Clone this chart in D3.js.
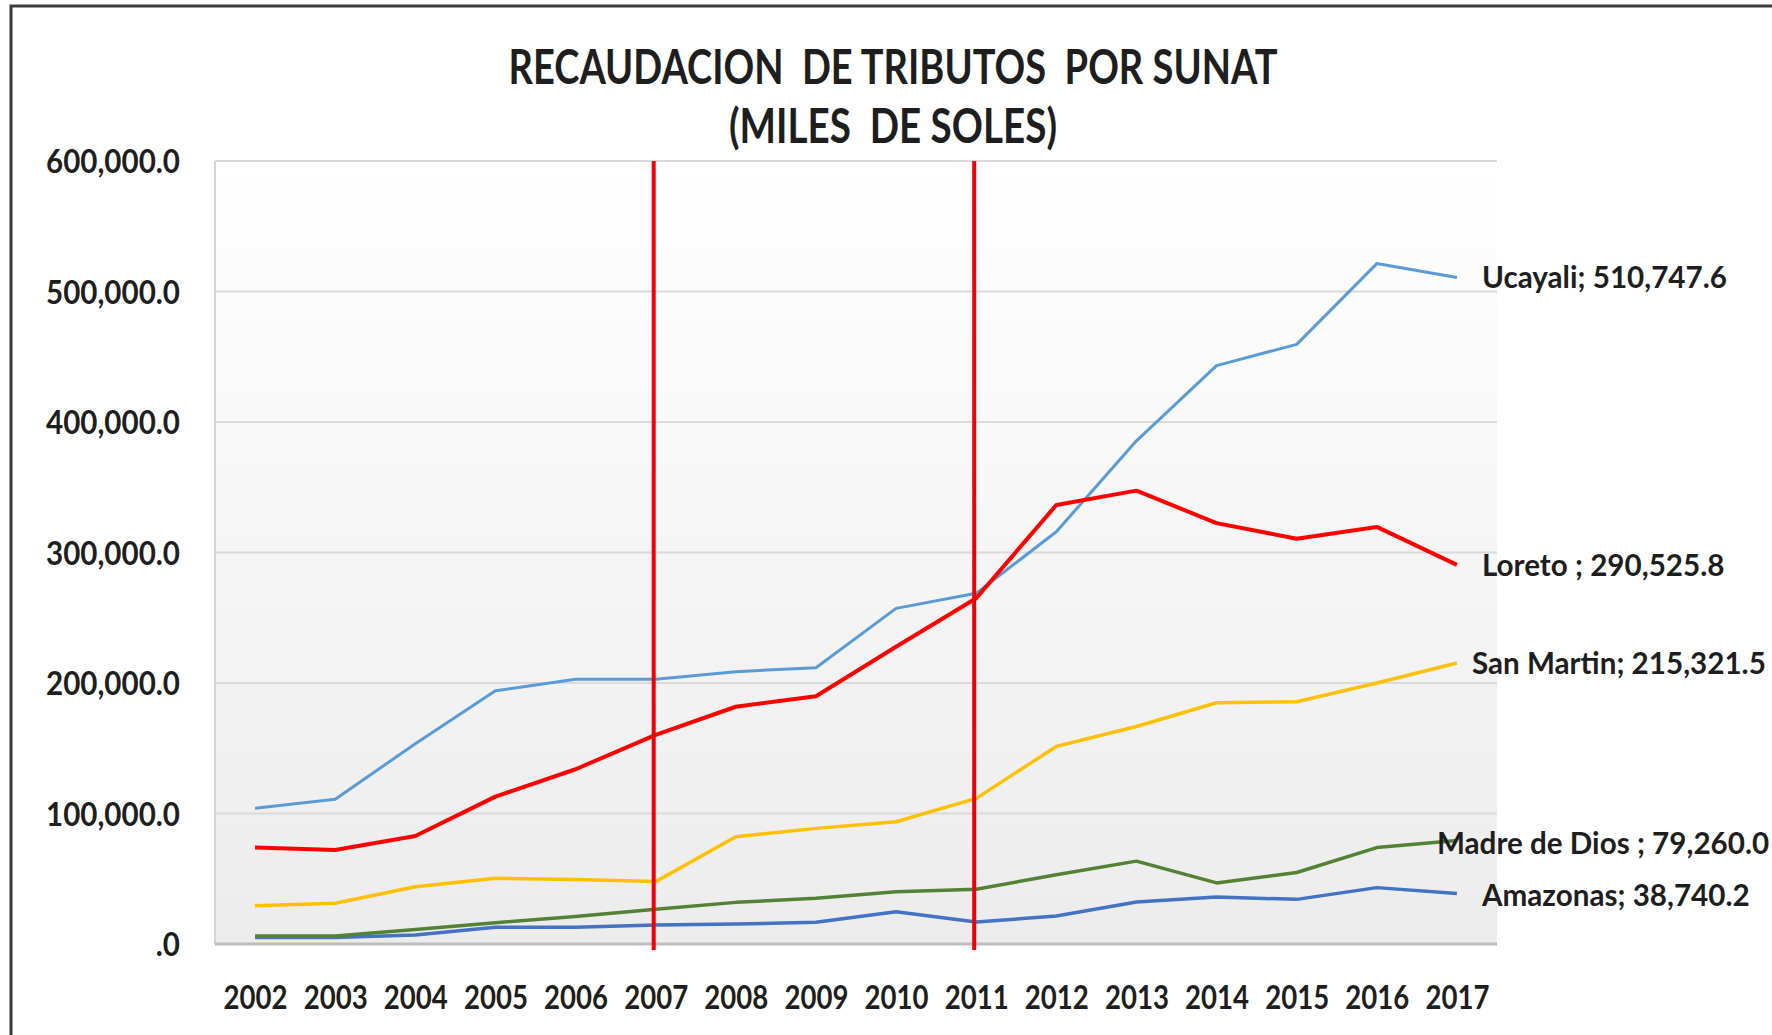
<!DOCTYPE html>
<html>
<head>
<meta charset="utf-8">
<script src="https://cdn.jsdelivr.net/npm/d3@7"></script>
<style>
  html, body { margin: 0; padding: 0; background: #ffffff; }
  svg text { font-family: Lato, "Open Sans", sans-serif; font-weight: bold; fill: #1e1e1e; }
</style>
</head>
<body>
<div id="chart"></div>
<script>
const years = ['2002','2003','2004','2005','2006','2007','2008','2009','2010','2011','2012','2013','2014','2015','2016','2017'];

const ucayali     = [104000, 110900, 153500, 194000, 202800, 202800, 208700, 211700, 257200, 268700, 315900, 385600, 443200, 459500, 521400, 510747.6];
const loreto      = [74000, 72000, 82800, 112900, 133900, 160200, 181800, 189800, 227800, 264900, 336400, 347400, 322500, 310600, 319600, 290525.8];
const sanMartin   = [29400, 31200, 43900, 50300, 49500, 47800, 82200, 88600, 93700, 111600, 151400, 166700, 184900, 185600, 200000, 215321.5];
const madreDeDios = [6100, 6100, 11200, 16300, 21000, 26600, 31900, 35000, 40000, 42000, 53000, 63500, 46800, 54800, 73900, 79260.0];
const amazonas    = [4900, 4900, 6900, 12800, 12800, 14600, 15300, 16600, 24700, 16800, 21400, 32200, 36000, 34200, 43200, 38740.2];

const seriesNames = ['Ucayali', 'Loreto ', 'San Martin', 'Madre de Dios ', 'Amazonas'];
const yTicks = [0, 100000, 200000, 300000, 400000, 500000, 600000];
const markedYears = ['2007', '2011'];
const titleLines = ['RECAUDACION  DE TRIBUTOS  POR SUNAT', '(MILES  DE SOLES)'];

// estilos por serie
const seriesColors = ['#5b9bd5', '#ff0000', '#ffc000', '#548235', '#4472c4'];
const seriesWidths = [3, 4, 3.5, 3.5, 3.5];
// desplazamiento de la etiqueta final respecto al ultimo punto
const labelDx = [25, 25, 15, -20, 25];
const labelDy = [0, 0, 0, 3, 2];

const W = 1772, H = 1035;
const plot = {left: 215, right: 1497, top: 161, bottom: 944};

// la fuente original (Calibri) es mas estrecha: se comprime cada texto
function squeeze(sel, factor) {
    sel.each(function() {
        const w = this.getComputedTextLength();
        d3.select(this)
            .attr('textLength', w * factor)
            .attr('lengthAdjust', 'spacingAndGlyphs');
    });
}
// factor a partir de un texto de referencia y su ancho en la imagen
function factorFor(sel, target) {
    return target / sel.node().getComputedTextLength();
}

const svg = d3.select('#chart').append('svg')
    .attr('width', W)
    .attr('height', H);

// marco exterior
svg.append('rect')
    .attr('x', 11).attr('y', 6)
    .attr('width', W + 20).attr('height', H + 20)
    .attr('fill', '#ffffff')
    .attr('stroke', '#3a3a3a')
    .attr('stroke-width', 3);

const defs = svg.append('defs');
const grad = defs.append('linearGradient')
    .attr('id', 'plotbg')
    .attr('x1', 0).attr('y1', 0).attr('x2', 0).attr('y2', 1);
grad.append('stop').attr('offset', '0%').attr('stop-color', '#ffffff');
grad.append('stop').attr('offset', '100%').attr('stop-color', '#ececec');

const x = d3.scalePoint()
    .domain(years)
    .range([plot.left, plot.right])
    .padding(0.5);

const y = d3.scaleLinear()
    .domain([0, 600000])
    .range([plot.bottom, plot.top]);

// fondo del area de trazado
svg.append('rect')
    .attr('x', plot.left).attr('y', plot.top)
    .attr('width', plot.right - plot.left)
    .attr('height', plot.bottom - plot.top)
    .attr('fill', 'url(#plotbg)');

// lineas de cuadricula
svg.append('g')
    .selectAll('line')
    .data(yTicks.filter(d => d > 0))
    .enter().append('line')
    .attr('x1', plot.left).attr('x2', plot.right)
    .attr('y1', d => y(d)).attr('y2', d => y(d))
    .attr('stroke', '#dadada')
    .attr('stroke-width', 2);

svg.append('line')
    .attr('x1', plot.left).attr('x2', plot.left)
    .attr('y1', y(600000)).attr('y2', y(0))
    .attr('stroke', '#d4d4d4')
    .attr('stroke-width', 2);

svg.append('line')
    .attr('x1', plot.left).attr('x2', plot.right)
    .attr('y1', y(0)).attr('y2', y(0))
    .attr('stroke', '#bdbdbd')
    .attr('stroke-width', 3);

// eje Y
const yAxis = svg.append('g')
    .attr('transform', `translate(${plot.left - 35},0)`)
    .call(d3.axisLeft(y).tickValues(yTicks).tickSize(0)
        .tickFormat(d => d === 0 ? '.0' : d3.format(',.1f')(d)));
yAxis.select('.domain').remove();
const yLabels = yAxis.selectAll('text')
    .attr('x', 0)
    .attr('dy', '0.36em')
    .style('font-size', '32px');
squeeze(yLabels, factorFor(yLabels.filter(d => d === 600000), 134));

// eje X
const xAxis = svg.append('g')
    .attr('transform', `translate(0,${plot.bottom})`)
    .call(d3.axisBottom(x).tickSize(0));
xAxis.select('.domain').remove();
const xLabels = xAxis.selectAll('text')
    .attr('y', 53)
    .attr('dy', '0.36em')
    .style('font-size', '32px');
squeeze(xLabels, factorFor(xLabels.filter(d => d === '2002'), 64));

// series
const allSeries = [ucayali, loreto, sanMartin, madreDeDios, amazonas];
const line = d3.line()
    .x((d, i) => x(years[i]))
    .y(d => y(d));

// dibujar de abajo hacia arriba como en Excel
[4, 3, 2, 0, 1].forEach(function(k) {
    svg.append('path')
        .datum(allSeries[k])
        .attr('fill', 'none')
        .attr('stroke', seriesColors[k])
        .attr('stroke-width', seriesWidths[k])
        .attr('stroke-linejoin', 'round')
        .attr('d', line);
});

// lineas rojas verticales
svg.append('g')
    .selectAll('line')
    .data(markedYears)
    .enter().append('line')
    .attr('x1', d => x(d) - 2).attr('x2', d => x(d) - 2)
    .attr('y1', y(600000)).attr('y2', y(0) + 6)
    .attr('stroke', '#f00000')
    .attr('stroke-width', 4);

// etiquetas al final de cada serie
const last = years[years.length - 1];
const endLabels = svg.append('g')
    .selectAll('text')
    .data(allSeries)
    .enter().append('text')
    .attr('x', (s, k) => x(last) + labelDx[k])
    .attr('y', (s, k) => y(s[s.length - 1]) + labelDy[k])
    .attr('dy', '0.36em')
    .style('font-size', '30px')
    .text((s, k) => seriesNames[k] + '; ' + d3.format(',.1f')(s[s.length - 1]));
squeeze(endLabels, factorFor(endLabels.filter((s, k) => k === 0), 245));

// titulo
const t1 = svg.append('text')
    .attr('x', 893).attr('y', 84)
    .attr('text-anchor', 'middle')
    .style('font-size', '48px')
    .style('white-space', 'pre')
    .text(titleLines[0]);
squeeze(t1, factorFor(t1, 769));
const t2 = svg.append('text')
    .attr('x', 893).attr('y', 143)
    .attr('text-anchor', 'middle')
    .style('font-size', '48px')
    .style('white-space', 'pre')
    .text(titleLines[1]);
squeeze(t2, factorFor(t2, 328));
</script>
</body>
</html>
